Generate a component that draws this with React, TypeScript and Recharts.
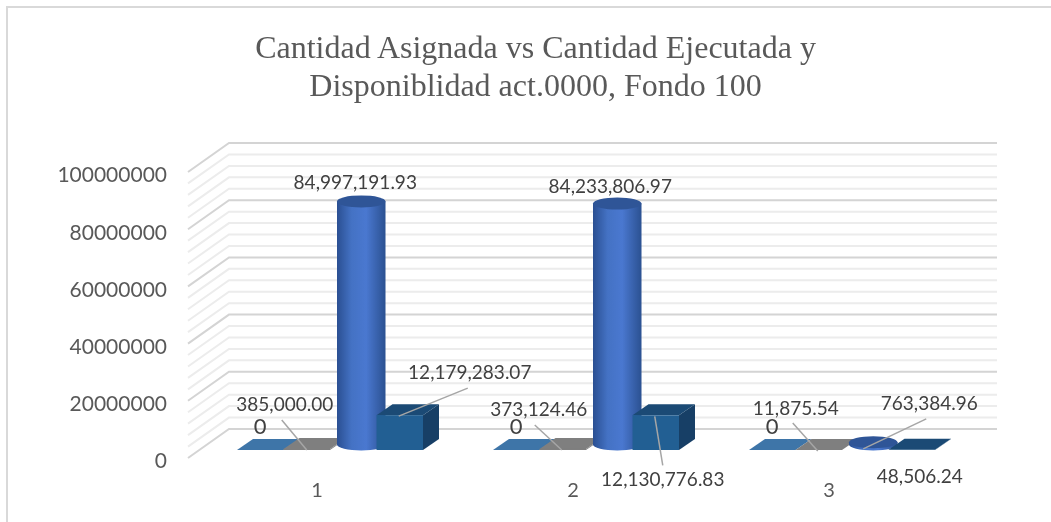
import { BarChart, Bar, XAxis, YAxis, CartesianGrid, LabelList } from "recharts";

const categories = ["1", "2", "3"];
const serieBase = [0, 0, 0];
const serieAsignada = [385000.0, 373124.46, 11875.54];
const serieEjecutada = [84997191.93, 84233806.97, 763384.96];
const serieDisponible = [12179283.07, 12130776.83, 48506.24];
const yTicks = [0, 20000000, 40000000, 60000000, 80000000, 100000000];
const gridValues = [
  0, 4000000, 8000000, 12000000, 16000000, 20000000, 24000000, 28000000, 32000000, 36000000, 40000000, 44000000,
  48000000, 52000000, 56000000, 60000000, 64000000, 68000000, 72000000, 76000000, 80000000, 84000000, 88000000,
  92000000, 96000000, 100000000,
];

const data = categories.map((name, i) => ({
  name,
  base: serieBase[i],
  asignada: serieAsignada[i],
  ejecutada: serieEjecutada[i],
  disponible: serieDisponible[i],
}));

const TEXT = "#595959";
const LABEL_FONT = "Lato";
// floor depth of the fake 3D
const WALL_DX = 41;
const WALL_DY = 29;
const DEPTH_DX = 16;
const DEPTH_DY = 11;
const SHIFT_X = 14; // group sits a bit to the right of the tick
const SHIFT_Y = -8;

const fmt = (v: number) =>
  v === 0 ? "0" : v.toLocaleString("en-US", { minimumFractionDigits: 2, maximumFractionDigits: 2 });

function Grid(props: any) {
  const { x1, x2, y1, index } = props;
  const major = index % 5 === 0;
  return (
    <path
      d={`M${x1} ${y1}L${x1 + WALL_DX} ${y1 - WALL_DY}L${x2 + WALL_DX} ${y1 - WALL_DY}`}
      fill="none"
      stroke={major ? "#d4d4d4" : "#ececec"}
      strokeWidth={2}
    />
  );
}

function Box({ x, y, width, height, front, top, side }: any) {
  const l = x + SHIFT_X;
  const r = l + width;
  const t = y + SHIFT_Y;
  const b = t + height;
  return (
    <g>
      <path d={`M${r} ${b}L${r + DEPTH_DX} ${b - DEPTH_DY}L${r + DEPTH_DX} ${t - DEPTH_DY}L${r} ${t}Z`} fill={side} />
      <path d={`M${l} ${t}L${l + DEPTH_DX} ${t - DEPTH_DY}L${r + DEPTH_DX} ${t - DEPTH_DY}L${r} ${t}Z`} fill={top} />
      <rect x={l} y={t} width={width} height={height} fill={front} />
    </g>
  );
}

function Cylinder({ x, y, width, height }: any) {
  const rx = width / 2 + 1;
  const ry = 6;
  const cx = x + SHIFT_X + width / 2 + DEPTH_DX / 2;
  const t = y + SHIFT_Y - DEPTH_DY / 2;
  const b = t + height;
  return (
    <g>
      <path
        d={`M${cx - rx} ${t}L${cx - rx} ${b}A${rx} ${ry} 0 0 0 ${cx + rx} ${b}L${cx + rx} ${t}Z`}
        fill="url(#cyl)"
      />
      <ellipse cx={cx} cy={t} rx={rx} ry={ry} fill="#2f5597" />
    </g>
  );
}

const shapeBase = (p: any) => <Box {...p} front="#3e75a8" top="#3e75a8" side="#3e75a8" />;
const shapeAsignada = (p: any) => <Box {...p} front="#7f7f7f" top="#7f7f7f" side="#7f7f7f" />;
const shapeDisponible = (p: any) => <Box {...p} front="#225f93" top="#1b4a75" side="#173f66" />;

// label offsets from the top centre of the bar: text dx/dy, then optional leader
type Spot = { dx: number; dy: number; line?: number[] };
const spotsBase: Spot[] = [
  { dx: 14, dy: -33 },
  { dx: 14, dy: -33 },
  { dx: 14, dy: -33 },
];
const spotsAsignada: Spot[] = [
  { dx: -8, dy: -53, line: [-11, -37, 14, -7] },
  { dx: -10, dy: -48, line: [-14, -32, 13, -7] },
  { dx: -9, dy: -50, line: [-12, -35, 13, -7] },
];
const spotsEjecutada: Spot[] = [
  { dx: 16, dy: -33 },
  { dx: 15, dy: -32 },
  { dx: 78, dy: -53, line: [75, -37, 12, -7] },
];
const spotsDisponible: Spot[] = [
  { dx: 84, dy: -52, line: [82, -35, 13, -7] },
  { dx: 21, dy: 55, line: [13, -7, 21, 42] },
  { dx: 22, dy: 18 },
];

const labelFor = (spots: Spot[], size = 19) => (p: any) => {
  const { x, y, width, index, value } = p;
  const s = spots[index];
  const cx = x + width / 2;
  return (
    <g>
      {s.line && (
        <line
          x1={cx + s.line[0]}
          y1={y + s.line[1]}
          x2={cx + s.line[2]}
          y2={y + s.line[3]}
          stroke="#a6a6a6"
          strokeWidth={1.5}
        />
      )}
      <text
        x={cx + s.dx}
        y={y + s.dy}
        textAnchor="middle"
        dominantBaseline="central"
        fontFamily={LABEL_FONT}
        fontSize={size}
        fill="#404040"
      >
        {fmt(value)}
      </text>
    </g>
  );
};

export default function App() {
  return (
    <div
      style={{
        position: "absolute",
        left: 0,
        top: 0,
        width: 1051,
        height: 522,
        overflow: "hidden",
        background: "#fff",
        filter: "blur(0.4px)",
      }}
    >
      <div
        style={{
          position: "absolute",
          left: 6,
          top: 6,
          width: 1100,
          height: 600,
          border: "2px solid #d9d9d9",
        }}
      />
      <div
        style={{
          position: "absolute",
          left: 0,
          top: 28,
          width: 1071,
          textAlign: "center",
          fontFamily: "Liberation Serif",
          fontSize: 32,
          lineHeight: "38px",
          color: TEXT,
        }}
      >
        Cantidad Asignada vs Cantidad Ejecutada y
        <br />
        Disponiblidad act.0000, Fondo 100
      </div>
      <div style={{ position: "absolute", left: 0, top: 0 }}>
        <BarChart
          width={1051}
          height={522}
          data={data}
          barSize={46.5}
          barGap={0}
          margin={{ top: 172, right: 95, bottom: 0, left: 0 }}
        >
          <defs>
            <linearGradient id="cyl" x1="0" y1="0" x2="1" y2="0">
              <stop offset="0" stopColor="#2a4f92" />
              <stop offset="0.3" stopColor="#4472c4" />
              <stop offset="0.6" stopColor="#4a78d0" />
              <stop offset="1" stopColor="#2b5191" />
            </linearGradient>
          </defs>
          <CartesianGrid vertical={false} horizontal={Grid} horizontalValues={gridValues} />
          <XAxis
            dataKey="name"
            height={64}
            axisLine={false}
            tickLine={false}
            tickMargin={19}
            tick={{ fontSize: 20, fill: TEXT, fontFamily: LABEL_FONT, dx: 1 }}
          />
          <YAxis
            width={188}
            domain={[0, 100000000]}
            ticks={yTicks}
            interval={0}
            axisLine={false}
            tickLine={false}
            tickSize={0}
            tickMargin={21}
            tick={{ fontSize: 21, fill: TEXT, fontFamily: LABEL_FONT, dy: 3 }}
          />
          <Bar dataKey="base" shape={shapeBase} isAnimationActive={false}>
            <LabelList dataKey="base" content={labelFor(spotsBase, 22)} />
          </Bar>
          <Bar dataKey="asignada" shape={shapeAsignada} isAnimationActive={false}>
            <LabelList dataKey="asignada" content={labelFor(spotsAsignada)} />
          </Bar>
          <Bar dataKey="ejecutada" shape={(p: any) => <Cylinder {...p} />} isAnimationActive={false}>
            <LabelList dataKey="ejecutada" content={labelFor(spotsEjecutada)} />
          </Bar>
          <Bar dataKey="disponible" shape={shapeDisponible} isAnimationActive={false}>
            <LabelList dataKey="disponible" content={labelFor(spotsDisponible)} />
          </Bar>
        </BarChart>
      </div>
    </div>
  );
}
